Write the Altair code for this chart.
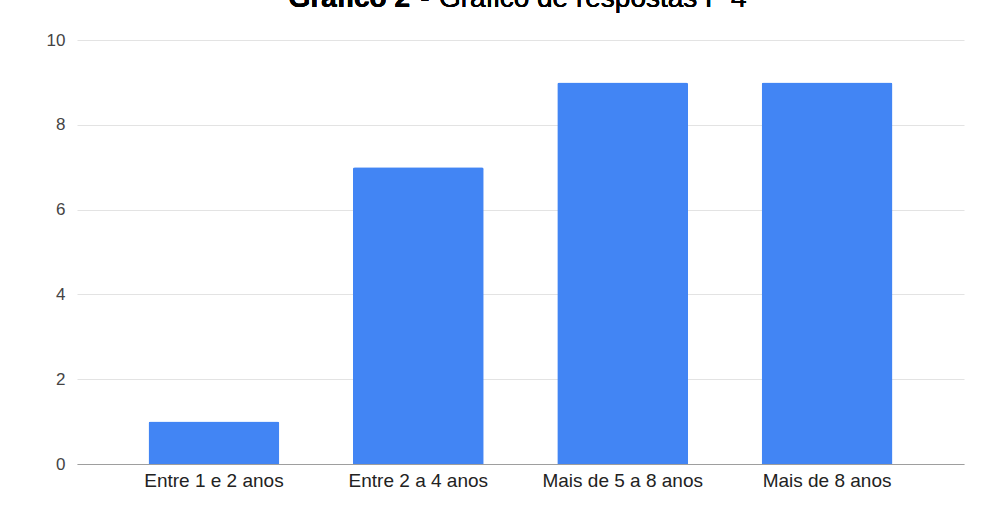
import altair as alt
import pandas as pd

# Response categories and counts
categorias = ["Entre 1 e 2 anos", "Entre 2 a 4 anos", "Mais de 5 a 8 anos", "Mais de 8 anos"]
respostas = [1, 7, 9, 9]
y_ticks = [0, 2, 4, 6, 8, 10]

df = pd.DataFrame({"categoria": categorias, "respostas": respostas})

W, H = 887, 424

bars = alt.Chart(df).mark_bar(
    color="#4285F4",
    cornerRadiusTopLeft=2,
    cornerRadiusTopRight=2,
).encode(
    x=alt.X(
        "categoria:N",
        sort=categorias,
        title=None,
        scale=alt.Scale(paddingInner=0.36, paddingOuter=0.35),
        axis=alt.Axis(
            labelAngle=0,
            labelFont="Arial",
            labelFontSize=19,
            labelColor="#222222",
            labelPadding=7,
            ticks=False,
            domainColor="#9e9e9e",
            domainWidth=1,
            grid=False,
        ),
    ),
    y=alt.Y(
        "respostas:Q",
        title=None,
        scale=alt.Scale(domain=[0, 10], nice=False),
        axis=alt.Axis(
            values=y_ticks,
            labelFont="Arial",
            labelFontSize=17,
            labelColor="#444444",
            labelPadding=12,
            ticks=False,
            domain=False,
            gridColor="#e3e3e3",
            gridWidth=1,
        ),
    ),
)

# Title pieces: bold prefix, separator dash, regular text
title_style = dict(font="Arial", fontSize=28, baseline="alphabetic", color="#000000")

title_bold = alt.Chart(df).mark_text(
    text="Gráfico 2", fontWeight="bold", align="right", **title_style
).encode(x=alt.value(333), y=alt.value(-33))

title_dash = alt.Chart(df).mark_text(
    text="-", align="center", **title_style
).encode(x=alt.value(348), y=alt.value(-33))

title_rest = alt.Chart(df).mark_text(
    text="Gráfico de respostas P 4", align="left", **title_style
).encode(x=alt.value(362), y=alt.value(-33))

chart = alt.layer(bars, title_bold, title_dash, title_rest).properties(
    width=W,
    height=H,
    background="#ffffff",
    autosize=alt.AutoSizeParams(type="none"),
    padding={"left": 77, "top": 40, "right": 20, "bottom": 48},
).configure_view(strokeWidth=0)

chart.save("out.html", embed_options={"renderer": "svg", "actions": False})
